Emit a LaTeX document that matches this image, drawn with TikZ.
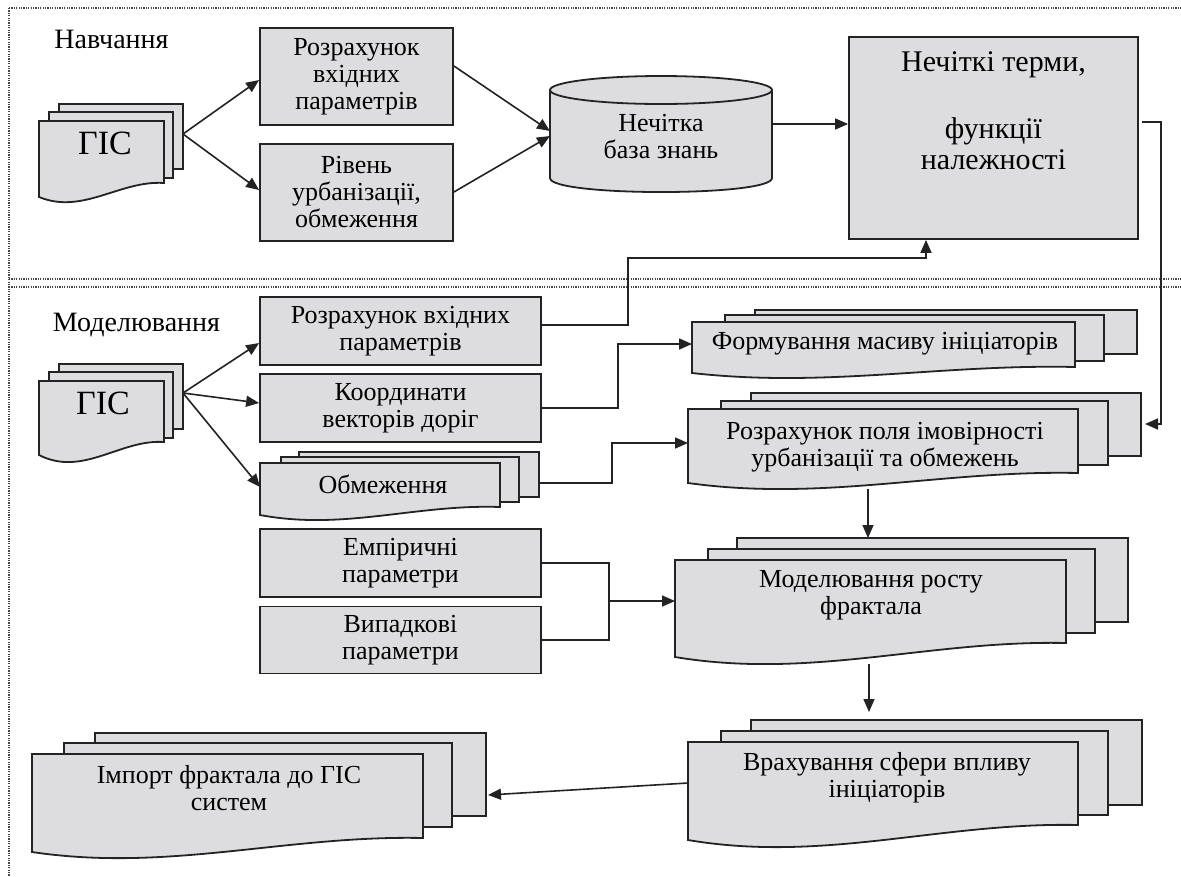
\documentclass[tikz,border=0pt]{standalone}
\usepackage{fontspec}
\setmainfont{Liberation Serif}
\usetikzlibrary{arrows.meta,fit}
\definecolor{boxfill}{RGB}{221,221,223}
\definecolor{boxline}{RGB}{35,35,35}
\definecolor{framecol}{RGB}{70,70,70}
\newcommand\docsheet[6]{%
  \pgfmathsetmacro\dsw{#3-#1}%
  \pgfmathsetmacro\dsa{#1+0.35*\dsw}%
  \pgfmathsetmacro\dsb{#1+0.65*\dsw}%
  \pgfmathsetmacro\dsq{#6-3}%
  \pgfmathsetmacro\dsp{(#5-0.4219*#4-0.1406*\dsq-0.0156*#6)/0.4219}%
  \filldraw[sheet] (#1,#2) -- (#3,#2) -- (#3,#6) .. controls (\dsb,\dsq) and (\dsa,\dsp) .. (#1,#4) -- cycle;
}
\begin{document}
\begin{tikzpicture}[x=1pt,y=-1pt,
  sheet/.style={draw=boxline,fill=boxfill,line width=1.8pt,line join=miter},
  box/.style={draw=boxline,fill=boxfill,line width=1.8pt,align=center,inner sep=0pt,
    font=\fontsize{26}{27}\selectfont},
  txt/.style={align=center,inner sep=0pt,font=\fontsize{26}{27}\selectfont},
  head/.style={inner sep=0pt,font=\fontsize{28}{32}\selectfont},
  gis/.style={inner sep=0pt,font=\fontsize{34}{36}\selectfont},
  hold/.style={inner sep=0pt,outer sep=0pt},
  conn/.style={draw=boxline,line width=1.6pt},
  arr/.style={conn,-{Triangle[length=13pt,width=11pt]}},
  frame/.style={draw=framecol,line width=1.5pt,dash pattern=on 1.1pt off 1.3pt}]
\clip (0,0) rectangle (1181,876);
\fill[white] (0,0) rectangle (1181,876);
% frames
\draw[frame] (9,8) -- (1190,8);
\draw[frame] (9,8) -- (9,880);
\draw[frame] (9,279) -- (1190,279);
\draw[frame] (9,287) -- (1190,287);
% headings
\node[head,anchor=base] (hnav) at (111.5,48) {Навчання};
\node[head,anchor=base] (hmod) at (136.5,331) {Моделювання};
% GIS stack (top)
\filldraw[sheet] (59,104) rectangle (183,169);
\filldraw[sheet] (49,112) rectangle (173,178);
\docsheet{39}{121}{164}{197}{202}{183}
\node[hold,fit={(39,104) (183,202)}] (gisA) {};
\node[gis] (gisAt) at (105,143) {ГІС};
% GIS stack (bottom)
\filldraw[sheet] (59,364) rectangle (183,429);
\filldraw[sheet] (49,372) rectangle (173,438);
\docsheet{39}{381}{164}{455}{462}{442}
\node[hold,fit={(39,364) (183,462)}] (gisB) {};
\node[gis] (gisBt) at (103,403) {ГІС};
% top boxes
\node[box,minimum width=193,minimum height=97] (r1) at (356.5,76.5) {Розрахунок\\вхідних\\параметрів};
\node[box,minimum width=193,minimum height=97] (r2) at (356.5,192.5) {Рівень\\урбанізації,\\обмеження};
% cylinder
\filldraw[sheet] (550,90) -- (550,178) .. controls (550,196.7) and (772,196.7) .. (772,178) -- (772,90);
\filldraw[sheet] (661,90) ellipse [x radius=111pt,y radius=14pt];
\node[hold,fit={(550,76) (772,192)}] (kb) {};
\node[txt] (kbt) at (661,137) {Нечітка\\база знань};
% big box
\node[box,minimum width=289,minimum height=202] (big) at (993.5,138) {};
\node[txt,anchor=north,font=\fontsize{30}{31}\selectfont] (bigt) at (993.5,51) {Нечіткі терми,\\[36pt]функції\\належності};
% modelling boxes
\node[box,minimum width=281,minimum height=68] (m1) at (400.5,331) {Розрахунок вхідних\\параметрів};
\node[box,minimum width=281,minimum height=68] (m2) at (400.5,408) {Координати\\векторів доріг};
\node[box,minimum width=281,minimum height=68] (e1) at (400.5,563) {Емпіричні\\параметри};
\node[box,minimum width=281,minimum height=67] (e2) at (400.5,640) {Випадкові\\параметри};
% Обмеження stack
\filldraw[sheet] (299,452) rectangle (539,497);
\filldraw[sheet] (281,457) rectangle (519,502);
\docsheet{260}{463}{500}{515}{520}{507}
\node[hold,fit={(260,452) (539,520)}] (obm) {};
\node[txt] (obmt) at (383,484) {Обмеження};
% Формування stack
\filldraw[sheet] (755,310) rectangle (1137,354);
\filldraw[sheet] (725,315) rectangle (1104,361);
\docsheet{692}{322}{1075}{373}{378}{367}
\node[hold,fit={(692,310) (1137,378)}] (form) {};
\node[txt] (formt) at (885,344) {Формування масиву ініціаторів};
% Розрахунок поля stack
\filldraw[sheet] (751,393) rectangle (1141,456);
\filldraw[sheet] (721,401) rectangle (1108,465);
\docsheet{688}{409}{1078}{483}{489}{473}
\node[hold,fit={(688,393) (1141,489)}] (rp) {};
\node[txt] (rpt) at (885,447) {Розрахунок поля імовірності\\урбанізації та обмежень};
% Моделювання росту stack
\filldraw[sheet] (737,538) rectangle (1128,622);
\filldraw[sheet] (708,549) rectangle (1095,633);
\docsheet{675}{560}{1066}{657}{664}{643}
\node[hold,fit={(675,538) (1128,664)}] (mr) {};
\node[txt] (mrt) at (871,595) {Моделювання росту\\фрактала};
% Врахування stack
\filldraw[sheet] (751,720) rectangle (1142,805);
\filldraw[sheet] (721,731) rectangle (1108,815);
\docsheet{688}{742}{1078}{840}{847}{825}
\node[hold,fit={(688,720) (1142,847)}] (vr) {};
\node[txt] (vrt) at (887,778) {Врахування сфери впливу\\ініціаторів};
% Імпорт stack
\filldraw[sheet] (95,733) rectangle (486,816);
\filldraw[sheet] (64,743) rectangle (452,827);
\docsheet{32}{754}{423}{852}{858}{838}
\node[hold,fit={(32,733) (486,858)}] (imp) {};
\node[txt] (impt) at (229,788) {Імпорт фрактала до ГІС\\систем};
% connectors (top)
\draw[arr] (gisA.east |- 0,134) -- (r1.west |- 0,80);
\draw[arr] (gisA.east |- 0,134) -- (r2.west |- 0,190);
\draw[arr] (r1.east |- 0,66) -- (kb.west |- 0,131);
\draw[arr] (r2.east |- 0,192) -- (kb.west |- 0,136);
\draw[arr] (kb.east |- 0,124) -- (big.west |- 0,124);
\draw[arr] ([xshift=3pt]big.east |- 0,122) -- ++(19,0) |- ([xshift=4pt]rp.east |- 0,424);
% connectors (modelling)
\draw[arr] (gisB.east |- 0,393) -- (m1.west |- 0,343);
\draw[arr] (gisB.east |- 0,393) -- (m2.west |- 0,403);
\draw[arr] (gisB.east |- 0,393) -- (obm.west |- 0,487);
\draw[arr] (m1.east |- 0,325) -- ++(86,0) -- ++(0,-67) -| (big.south -| 926,0);
\draw[arr] (m2.east) -- ++(76,0) |- (form.west |- 0,344);
\draw[arr] (obm.east |- 0,483) -- ++(73,0) |- (rp.west |- 0,443);
\draw[arr] (rp.south -| 868,0) -- (mr.north -| 868,0);
\draw[conn] (e1.east) -- ++(67,0) coordinate (ejoin) |- (e2.east);
\draw[arr] (ejoin |- 0,601) -- (mr.west |- 0,601);
\draw[arr] (mr.south -| 869,0) -- ([yshift=8pt]vr.north -| 869,0);
\draw[arr] (vr.west |- 0,783) -- ([xshift=2pt]imp.east |- 0,795);
\end{tikzpicture}
\end{document}
